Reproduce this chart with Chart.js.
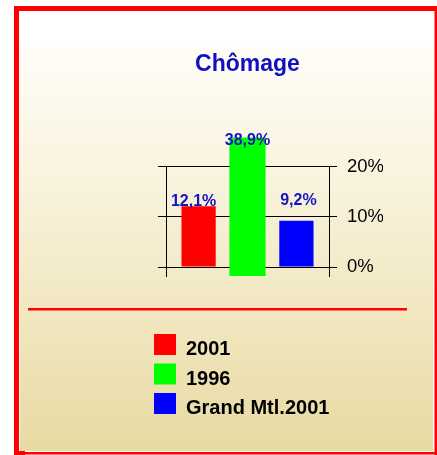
<!DOCTYPE html>
<html>
<head>
<meta charset="utf-8">
<script src="https://cdn.jsdelivr.net/npm/chart.js@4/dist/chart.umd.min.js"></script>
<style>
html,body{margin:0;padding:0;background:#fff;overflow:hidden}
#wrap{position:relative;width:437px;height:455px}
</style>
</head>
<body>
<div id="wrap"><canvas id="c" width="437" height="455"></canvas></div>
<script>
// ---- data ----
const categories = [''];
const seriesNames = ['2001', '1996', 'Grand Mtl.2001'];
const rate2001 = [12.1];
const rate1996 = [38.9];
const rateGrandMtl2001 = [9.2];
const yTickValues = [0, 10, 20];
const titleText = 'Chômage';

// ---- styles ----
const FONT = "'Liberation Sans', Arial, Helvetica, sans-serif";
const seriesColors = ['#ff0000', '#00ff00', '#0000ff'];
const labelBlue = '#1414c4';
const labelShift = { dx: [-5, 0, 2], dy: [5, -3, 20] };

const framePlugin = {
  id: 'frame',
  beforeDraw(chart) {
    const ctx = chart.ctx;
    ctx.save();
    ctx.fillStyle = '#ffffff';
    ctx.fillRect(0, 0, chart.width, chart.height);
    const g = ctx.createLinearGradient(0, 47, 0, 451);
    g.addColorStop(0, '#fefdf7');
    g.addColorStop(0.3, '#faf4e0');
    g.addColorStop(0.65, '#f1e7c1');
    g.addColorStop(1, '#e8daa2');
    ctx.fillStyle = '#ffffff';
    ctx.fillRect(20, 10, 413, 37);
    ctx.fillStyle = g;
    ctx.fillRect(20, 47, 413, 404);
    ctx.fillStyle = '#ff0000';
    ctx.fillRect(14, 6, 5, 449);
    ctx.fillRect(14, 6, 423, 5);
    ctx.fillRect(434.5, 6, 2.5, 449);
    ctx.fillRect(14, 452, 423, 2.5);
    ctx.fillRect(14, 451, 11, 4);
    ctx.restore();
  },
  afterDraw(chart) {
    const ctx = chart.ctx;
    ctx.save();
    // separator
    ctx.fillStyle = '#ff0000';
    ctx.fillRect(28, 308, 379, 2.5);
    // legend
    ctx.font = 'bold 20px ' + FONT;
    ctx.textBaseline = 'alphabetic';
    ctx.textAlign = 'left';
    chart.data.datasets.forEach((ds, i) => {
      const top = 334 + i * 29.5;
      ctx.fillStyle = ds.backgroundColor;
      ctx.fillRect(154, top, 22, 21);
      ctx.fillStyle = '#000000';
      ctx.fillText(ds.label, 186, top + 21);
    });
    ctx.restore();
  }
};

const valueLabelPlugin = {
  id: 'valueLabels',
  afterDatasetsDraw(chart) {
    const ctx = chart.ctx;
    const area = chart.chartArea;
    ctx.save();
    ctx.font = 'bold 16px ' + FONT;
    ctx.fillStyle = labelBlue;
    ctx.textAlign = 'center';
    ctx.textBaseline = 'middle';
    chart.data.datasets.forEach((ds, i) => {
      const meta = chart.getDatasetMeta(i);
      meta.data.forEach((el, j) => {
        const clipTop = (ds.clip && typeof ds.clip === 'object' && ds.clip.top !== false) ? ds.clip.top : 0;
        const top = Math.max(el.y, area.top - clipTop);
        const txt = String(ds.data[j]).replace('.', ',') + '%';
        ctx.fillText(txt, el.x + labelShift.dx[i], top - labelShift.dy[i]);
      });
    });
    ctx.restore();
  }
};

const chart = new Chart(document.getElementById('c'), {
  type: 'bar',
  data: {
    labels: categories,
    datasets: [
      { label: seriesNames[0], data: rate2001, backgroundColor: seriesColors[0], borderWidth: 0 },
      { label: seriesNames[1], data: rate1996, backgroundColor: seriesColors[1], borderWidth: 0,
        barPercentage: 0.74, base: -1.8, clip: { left: false, right: false, top: 29, bottom: 10 } },
      { label: seriesNames[2], data: rateGrandMtl2001, backgroundColor: seriesColors[2], borderWidth: 0 }
    ]
  },
  options: {
    responsive: false,
    animation: false,
    events: [],
    categoryPercentage: 0.9,
    barPercentage: 0.7,
    layout: { padding: { left: 158, right: 54, top: 0, bottom: 178 } },
    scales: {
      x: {
        type: 'category',
        offset: true,
        grid: { display: true, offset: true, color: '#000000', lineWidth: 1, tickLength: 10, drawOnChartArea: true, drawTicks: true },
        border: { display: false },
        ticks: { display: false }
      },
      y: {
        position: 'right',
        min: 0, max: 20,
        afterBuildTicks(scale) { scale.ticks = yTickValues.map(v => ({ value: v })); },
        afterFit(scale) { scale.width = 54; },
        grid: { color: '#000000', lineWidth: 1, tickLength: 8, drawTicks: true },
        border: { display: false },
        ticks: {
          padding: 10,
          color: '#000000',
          font: { family: FONT, size: 18.5 },
          callback: v => v + '%'
        }
      },
      yL: {
        position: 'left',
        min: 0, max: 20,
        afterBuildTicks(scale) { scale.ticks = yTickValues.map(v => ({ value: v })); },
        grid: { color: '#000000', lineWidth: 1, tickLength: 8, drawTicks: true, drawOnChartArea: false },
        border: { display: false },
        ticks: { display: false }
      }
    },
    plugins: {
      legend: { display: false },
      tooltip: { enabled: false },
      title: {
        display: true,
        text: titleText,
        fullSize: false,
        color: '#1010c0',
        font: { family: FONT, size: 23, weight: 'bold', lineHeight: 1.2 },
        padding: { top: 51, bottom: 88 }
      }
    }
  },
  plugins: [framePlugin, valueLabelPlugin]
});
</script>
</body>
</html>
